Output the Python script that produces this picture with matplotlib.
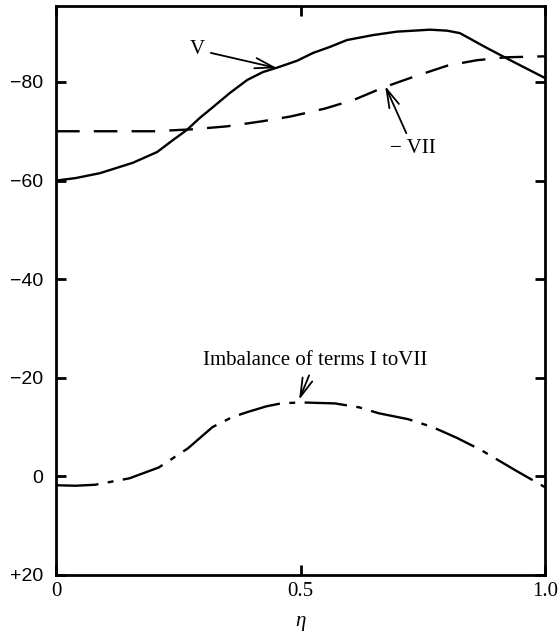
import matplotlib
matplotlib.use("Agg")
import matplotlib.pyplot as plt

# term V (solid)
eta_v = [0, 0.04, 0.09, 0.157, 0.207, 0.239, 0.268, 0.294, 0.321, 0.356, 0.391, 0.423,
         0.452, 0.493, 0.526, 0.56, 0.595, 0.648, 0.697, 0.765, 0.8, 0.826, 0.881, 0.935, 1.0]
term_v = [-60, -60.5, -61.5, -63.6, -65.8, -68.2, -70.3, -72.7, -74.9, -77.8, -80.4, -82.0,
          -82.9, -84.3, -85.9, -87.1, -88.5, -89.5, -90.2, -90.6, -90.4, -89.9, -86.9, -84.1, -80.8]

# minus term VII (dashed)
eta_vii = [0, 0.1, 0.2, 0.28, 0.35, 0.42, 0.48, 0.55, 0.61, 0.67, 0.73, 0.8, 0.86, 0.92, 1.0]
term_vii = [-70, -70, -70, -70.4, -71, -72, -73, -74.6, -76.4, -78.9, -81, -83.3, -84.4, -85, -85.2]

# imbalance of terms I to VII (dash-dot)
eta_imb = [0, 0.04, 0.08, 0.15, 0.21, 0.27, 0.32, 0.36, 0.39, 0.43, 0.46, 0.5, 0.57, 0.62,
           0.66, 0.72, 0.77, 0.82, 0.87, 0.94, 1.0]
imbalance = [1.8, 1.9, 1.7, 0.4, -1.8, -5.7, -10, -12, -13, -14.2, -14.8, -15, -14.8, -14,
             -12.8, -11.6, -10, -7.8, -5.3, -1.2, 2.2]

y_ticks = [-80, -60, -40, -20, 0, 20]
y_tick_labels = ["\u221280", "\u221260", "\u221240", "\u221220", "0", "+20"]
x_ticks = [0, 0.5, 1.0]
x_tick_labels = ["0", "0.5", "1.0"]

SERIF = ["Liberation Serif", "DejaVu Serif"]
SANS = ["Liberation Sans", "DejaVu Sans"]

fig = plt.figure(figsize=(5.58, 6.34), dpi=100)
ax = fig.add_axes([0.1004, 0.0931, 0.8763, 0.8974])

ax.plot(eta_v, term_v, color="black", lw=1.7)
ax.plot(eta_vii, term_vii, color="black", lw=1.7, dashes=(10, 6))
ax.plot(eta_imb, imbalance, color="black", lw=1.7, dashes=(18, 4, 2.5, 4))

ax.set_xlim(0, 1.0)
ax.set_ylim(20, -95.4)

ax.set_xticks(x_ticks)
ax.set_xticklabels(x_tick_labels, family=SERIF, fontsize=15)
ax.set_yticks(y_ticks)
ax.set_yticklabels(y_tick_labels, family=SANS, fontsize=14)
ax.tick_params(direction="in", length=7, width=2, top=True, right=True, pad=5)
ax.tick_params(axis="y", pad=9)
for sp in ax.spines.values():
    sp.set_linewidth(2)

ax.set_xlabel("\u03b7", fontsize=15, labelpad=8, family=SERIF, style="italic")

arrow = dict(arrowstyle="->,head_length=0.9,head_width=0.25", color="black", lw=1.3,
             shrinkA=2, shrinkB=0)
ax.annotate("V", xy=(0.452, -82.8), xytext=(0.29, -86.5), fontsize=15, family=SERIF,
            ha="center", va="center", arrowprops=arrow)
ax.annotate("\u2212 VII", xy=(0.673, -79.2), xytext=(0.73, -66.6), fontsize=15, family=SERIF,
            ha="center", va="center", arrowprops=arrow)
ax.annotate("Imbalance of terms I toVII", xy=(0.497, -15.5), xytext=(0.53, -23.5),
            fontsize=15, family=SERIF, ha="center", va="center", arrowprops=arrow)

fig.savefig("out.png", dpi=100)
